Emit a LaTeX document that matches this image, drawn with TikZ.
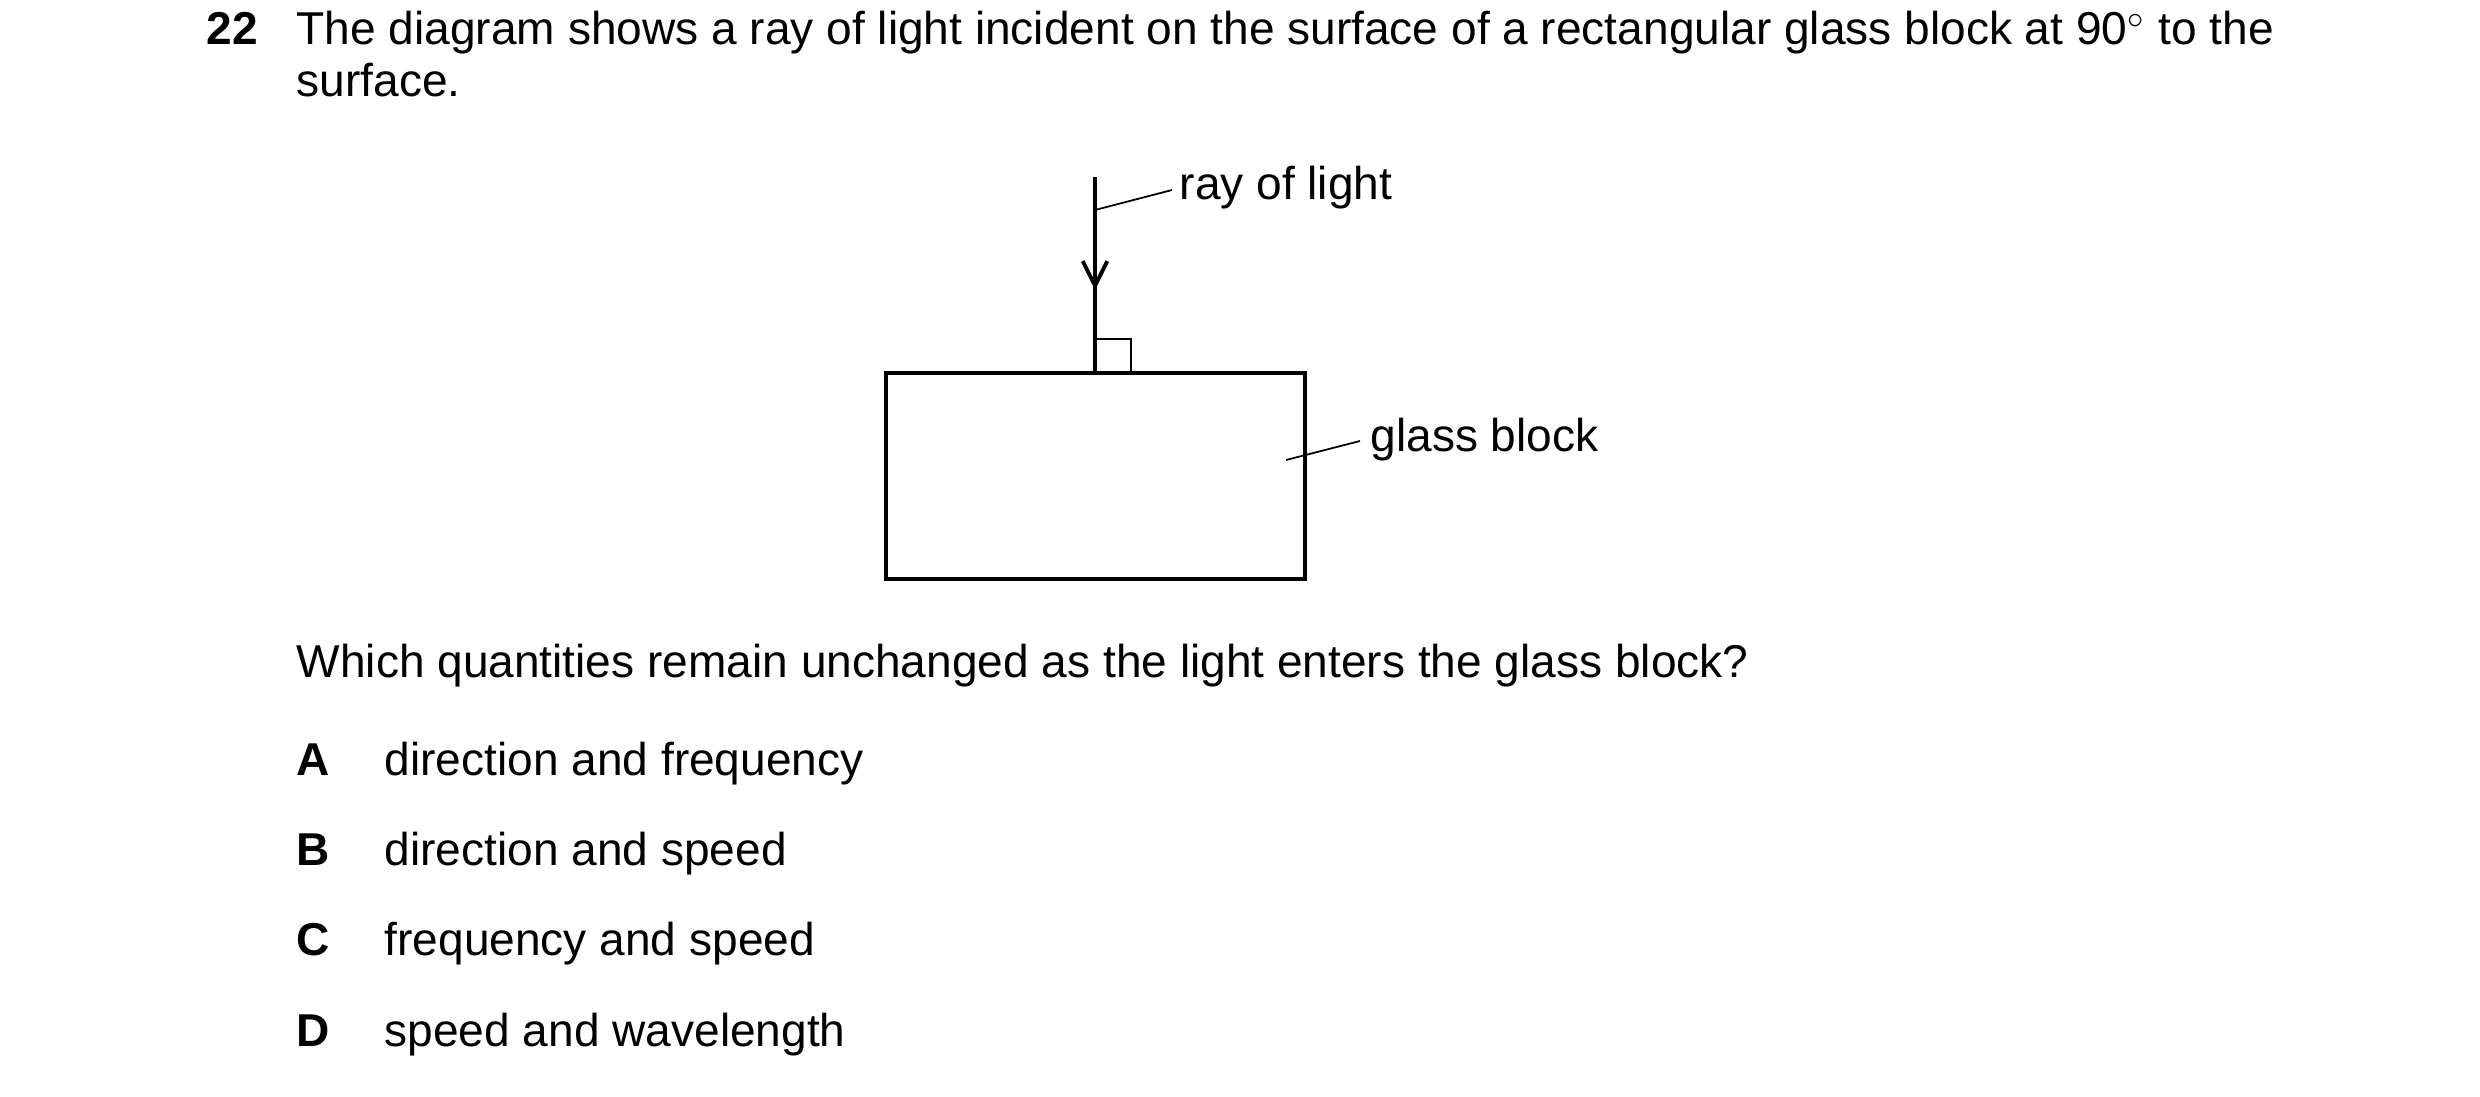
\documentclass[tikz,border=0pt]{standalone}
\usepackage{fontspec}
\setmainfont{Liberation Sans}
\usetikzlibrary{arrows.meta}
\begin{document}
\fontsize{13.1}{15}\selectfont
\begin{tikzpicture}[x=0.01cm,y=-0.01cm,txtS/.style={anchor=base west,inner sep=0pt},rayS/.style={line width=1.1pt},blockS/.style={line width=1.4pt},leadS/.style={line width=0.5pt}]
\useasboundingbox (0,0) rectangle (2480,1096);
\node[txtS,font=\bfseries] (num) at (206,44) {22};
\node[txtS] (q1) at (296,44) {The diagram shows a ray of light incident on the surface of a rectangular glass block at 90$^\circ$ to the};
\node[txtS] (q2) at (296,96) {surface.};

\draw[blockS] (886,373) rectangle (1305,579);
\coordinate (top) at (1095,177);
\coordinate (hit) at (1095,373);
\draw[rayS] (top) -- (hit);
\draw[rayS,-{Straight Barb[length=7pt,width=7pt]}] (top) -- (1095,290);
\draw[leadS] (1095,339) -- (1131,339) -- (1131,373);

\node[txtS] (lRay) at (1179,199) {ray of light};
\draw[leadS] (1095,210) -- (1172,190);
\node[txtS] (lBlock) at (1370,451) {glass block};
\draw[leadS] (1286,460) -- (1360,441);

\node[txtS] (q3) at (296,677) {Which quantities remain unchanged as the light enters the glass block?};
\foreach \l/\t/\y in {A/direction and frequency/775,B/direction and speed/865,C/frequency and speed/955,D/speed and wavelength/1046}{
  \node[txtS,font=\bfseries] (k\l) at (296,\y) {\l};
  \node[txtS] (o\l) at (384,\y) {\t};
}
\end{tikzpicture}
\end{document}
